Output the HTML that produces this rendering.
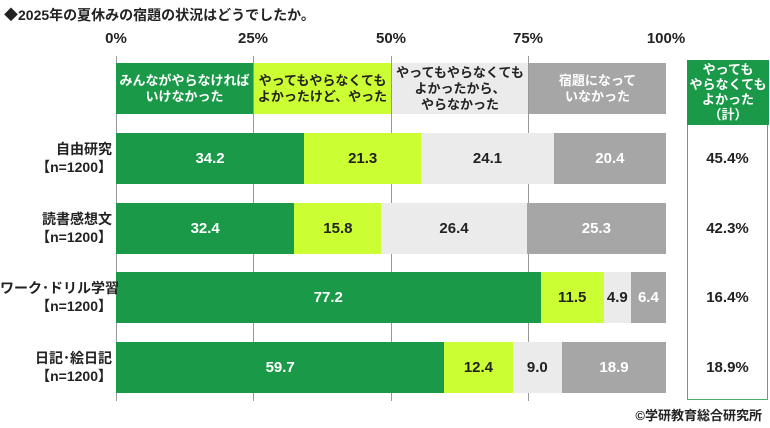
<!DOCTYPE html><html><head><meta charset="utf-8"><style>
body{margin:0;width:770px;height:428px;background:#fff;font-family:"Liberation Sans","Noto Sans CJK JP",sans-serif;position:relative;overflow:hidden}
.a{position:absolute}
.t{font-size:14px;font-weight:bold;color:#222}
.tick{font-size:15px;font-weight:bold;color:#222;width:60px;text-align:center;top:30px}
.g{position:absolute;width:1px;background:#999;top:56px;height:345px}
.seg{position:absolute;display:flex;align-items:center;justify-content:center;font-size:15px;font-weight:bold}
.lg{position:absolute;top:63px;height:51px;display:flex;align-items:center;justify-content:center;text-align:center;font-size:13px;font-weight:bold;line-height:16px}
.lab{position:absolute;left:0;width:112px;text-align:right;font-size:14px;font-weight:bold;color:#222;line-height:18px;white-space:nowrap}
.val{position:absolute;left:688px;width:79px;text-align:center;font-size:15px;font-weight:bold;color:#222}
</style></head><body>
<div class="a t" style="left:4px;top:5px">◆2025年の夏休みの宿題の状況はどうでしたか。</div>
<div class="a tick" style="left:86px">0%</div>
<div class="a tick" style="left:223px">25%</div>
<div class="a tick" style="left:361px">50%</div>
<div class="a tick" style="left:498px">75%</div>
<div class="a tick" style="left:636px">100%</div>
<div class="g" style="left:116px;top:56px"></div>
<div class="g" style="left:253px"></div><div class="g" style="left:391px"></div><div class="g" style="left:528px"></div>
<div class="lg" style="left:116px;width:137px;background:#1a9a48;color:#fff">みんながやらなければ<br>いけなかった</div>
<div class="lg" style="left:254px;width:137px;background:#ccff33;color:#222">やってもやらなくても<br>よかったけど、やった</div>
<div class="lg" style="left:392px;width:136px;background:#ebebeb;color:#222">やってもやらなくても<br>よかったから、<br>やらなかった</div>
<div class="lg" style="left:529px;width:137px;background:#a6a6a6;color:#fff">宿題になって<br>いなかった</div>
<div id="bars"></div>
<div class="a" style="left:687px;top:60px;width:79px;height:338px;border:1.5px solid #4caf6a"></div>
<div class="a" style="left:687px;top:60px;width:82px;height:65px;background:#1a9a48;color:#fff;font-size:13px;font-weight:bold;text-align:center;line-height:15px;padding-top:2px;box-sizing:border-box">やっても<br>やらなくても<br>よかった<br>（計）</div>
<div class="a" style="right:8px;top:405px;font-size:13px;font-weight:bold;color:#222">©学研教育総合研究所</div>
<script>
var d=[["自由研究",[34.2,21.3,24.1,20.4],"45.4%",133],["読書感想文",[32.4,15.8,26.4,25.3],"42.3%",203],["ワーク･ドリル学習",[77.2,11.5,4.9,6.4],"16.4%",272],["日記･絵日記",[59.7,12.4,9.0,18.9],"18.9%",342]];
var c=[["#1a9a48","#fff"],["#ccff33","#222"],["#ebebeb","#222"],["#a6a6a6","#fff"]];
var h="";d.forEach(function(r){var x=116,s=r[1].reduce(function(a,b){return a+b},0);
r[1].forEach(function(v,i){var w=v/s*550;h+='<div class="seg" style="left:'+x+'px;top:'+r[3]+'px;width:'+w+'px;height:51px;background:'+c[i][0]+';color:'+c[i][1]+'">'+v.toFixed(1)+'</div>';x+=w;});
h+='<div class="lab" style="top:'+(r[3]+7)+'px">'+r[0]+'<br>【n=1200】</div>';
h+='<div class="val" style="top:'+(r[3]+17)+'px">'+r[2]+'</div>';});
document.getElementById("bars").innerHTML=h;
</script>
</body></html>
